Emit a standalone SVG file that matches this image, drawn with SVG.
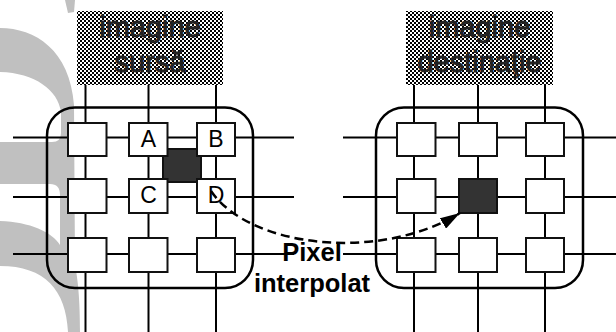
<svg xmlns="http://www.w3.org/2000/svg" width="616" height="332" viewBox="0 0 616 332">
<defs>
<pattern id="checker" patternUnits="userSpaceOnUse" width="4" height="4">
<rect width="4" height="4" fill="#fff"/>
<rect width="2" height="2" fill="#000"/>
<rect x="2" y="2" width="2" height="2" fill="#000"/>
</pattern>
<marker id="arrow" viewBox="0 0 20 12" refX="20" refY="6" markerWidth="20" markerHeight="12" markerUnits="userSpaceOnUse" orient="auto">
<path d="M0,0 L20,6 L0,12 Z" fill="#000"/>
</marker>
<style>
.wm{fill:#c0c0c0;stroke:none}
.grid{stroke:#000;stroke-width:2;fill:none}
.frame{fill:none;stroke:#000;stroke-width:2.5}
.px{fill:#fff;stroke:#111;stroke-width:2}
.dark{fill:#333;stroke:#111;stroke-width:2}
.img{fill:url(#checker)}
.imgtxt{font-family:"Liberation Sans",Arial,sans-serif;font-size:29px;fill:#222;stroke:#222;stroke-width:0.9;text-anchor:middle}
.lbl{font-family:"Liberation Sans",Arial,sans-serif;font-size:23px;fill:#000;text-anchor:middle}
.note{font-family:"Liberation Sans",Arial,sans-serif;font-size:25.5px;font-weight:bold;fill:#000;text-anchor:middle}
.dash{fill:none;stroke:#000;stroke-width:2.5;stroke-dasharray:9 5}
</style>
</defs>
<g id="watermark">
<path class="wm" d="M65,0 L75,0 L74,12 L68,13 Z"/>
<path class="wm" d="M0,28 C35,28 70,50 74,105 L75,265 C78,280 80,300 80,332 L68,332 C66,290 45,266 0,266 L0,221 C30,222 52,232 60,245 L60,195 Q60,184 50,184 L0,184 L0,142 L52,142 Q61,142 61,133 L61,112 C58,90 35,73 0,72 Z"/>
</g>
<g id="connectors">
<line class="grid" x1="85.5" y1="85" x2="85.5" y2="332"/>
<line class="grid" x1="148.5" y1="85" x2="148.5" y2="332"/>
<line class="grid" x1="216" y1="85" x2="216" y2="332"/>
<line class="grid" x1="13" y1="137.5" x2="294" y2="137.5"/>
<line class="grid" x1="13" y1="197" x2="294" y2="197"/>
<line class="grid" x1="13" y1="254" x2="294" y2="254"/>
<line class="grid" x1="414" y1="85" x2="414" y2="332"/>
<line class="grid" x1="478" y1="85" x2="478" y2="332"/>
<line class="grid" x1="545" y1="85" x2="545" y2="332"/>
<line class="grid" x1="343" y1="137.5" x2="616" y2="137.5"/>
<line class="grid" x1="343" y1="197" x2="616" y2="197"/>
<line class="grid" x1="343" y1="254" x2="616" y2="254"/>
</g>
<g id="src-image">
<rect class="img" x="77" y="11" width="146" height="74"/>
<text class="imgtxt" x="150" y="37">imagine</text>
<text class="imgtxt" x="150" y="72">sursă</text>
</g>
<g id="dst-image">
<rect class="img" x="406" y="11" width="147" height="74"/>
<text class="imgtxt" x="479.5" y="37">imagine</text>
<text class="imgtxt" x="479.5" y="72">destinaţie</text>
</g>
<g id="src-frame">
<rect class="frame" x="47" y="107.5" width="206" height="180.5" rx="28" ry="28"/>
</g>
<g id="dst-frame">
<rect class="frame" x="376" y="107.5" width="207" height="180.5" rx="28" ry="28"/>
</g>
<g id="src-interp">
<rect class="dark" x="163" y="149" width="38" height="33"/>
</g>
<g id="src-pixels">
<g id="s11"><rect class="px" x="68" y="123" width="38.5" height="33"/></g>
<g id="sA"><rect class="px" x="129" y="123" width="38.5" height="33"/><text class="lbl" x="148.5" y="147">A</text></g>
<g id="sB"><rect class="px" x="197" y="123" width="38" height="33"/><text class="lbl" x="216" y="147">B</text></g>
<g id="s21"><rect class="px" x="68" y="179" width="38.5" height="34"/></g>
<g id="sC"><rect class="px" x="129" y="179" width="38.5" height="34"/><text class="lbl" x="148.5" y="202.5">C</text></g>
<g id="sD"><rect class="px" x="197" y="179" width="38" height="34"/><text class="lbl" x="216" y="202.5">D</text></g>
<g id="s31"><rect class="px" x="68" y="238" width="38.5" height="34"/></g>
<g id="s32"><rect class="px" x="129" y="238" width="38.5" height="34"/></g>
<g id="s33"><rect class="px" x="197" y="238" width="38" height="34"/></g>
</g>
<g id="dst-pixels">
<g id="d11"><rect class="px" x="397" y="123" width="38.5" height="33"/></g>
<g id="d12"><rect class="px" x="459" y="123" width="38" height="33"/></g>
<g id="d13"><rect class="px" x="526" y="123" width="38" height="33"/></g>
<g id="d21"><rect class="px" x="397" y="179" width="38.5" height="34"/></g>
<g id="d22"><rect class="dark" x="459" y="179" width="38" height="34"/></g>
<g id="d23"><rect class="px" x="526" y="179" width="38" height="34"/></g>
<g id="d31"><rect class="px" x="397" y="238" width="38.5" height="34"/></g>
<g id="d32"><rect class="px" x="459" y="238" width="38" height="34"/></g>
<g id="d33"><rect class="px" x="526" y="238" width="38" height="34"/></g>
</g>
<g id="interp-connector">
<path class="dash" d="M211,191 C250,248 380,262 460,213" marker-end="url(#arrow)"/>
</g>
<g id="interp-label">
<text class="note" x="312" y="261">Pixel</text>
<text class="note" x="312" y="291.5">interpolat</text>
</g>
</svg>
